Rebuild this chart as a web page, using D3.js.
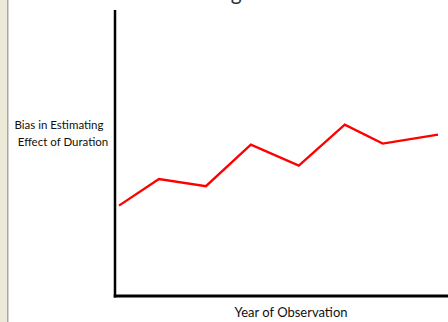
<!DOCTYPE html>
<html>
<head>
<meta charset="utf-8">
<script src="https://cdn.jsdelivr.net/npm/d3@7"></script>
<style>
html,body{margin:0;padding:0;background:#fff;overflow:hidden}
</style>
</head>
<body>
<script>
// Data (relative units)
const years = [1.2, 13.2, 27.3, 40.8, 55.2, 69.0, 80.4, 97.0];
const bias  = [31.6, 40.9, 38.4, 52.9, 45.6, 59.9, 53.3, 56.4];
const title = "Shifting Bias Over Time";
const yLabelLines = ["Bias in Estimating", "Effect of Duration"];
const xLabel = "Year of Observation";

const W = 448, H = 322;
const svg = d3.select("body").append("svg").attr("width", W).attr("height", H);

// left window strip
svg.append("rect").attr("x",0).attr("y",0).attr("width",7).attr("height",H).attr("fill","#ECE9D8");
svg.append("rect").attr("x",7).attr("y",0).attr("width",1.5).attr("height",H).attr("fill","#A8A8A0");

const x = d3.scaleLinear().domain([0,100]).range([115,448]);
const y = d3.scaleLinear().domain([0,100]).range([296,10]);

// title (mostly cropped at the top edge, as in the reference)
svg.append("text").attr("x",279).attr("y",0).attr("text-anchor","middle")
  .attr("font-family","Lato, 'Open Sans', sans-serif").attr("font-size",21)
  .attr("fill","#333").text(title);

// axes
svg.append("line").attr("x1",x(0)).attr("x2",x(0)).attr("y1",y(100)).attr("y2",y(0)+1.5)
  .attr("stroke","#000").attr("stroke-width",2.5);
svg.append("line").attr("x1",x(0)-1.25).attr("x2",W).attr("y1",y(0)).attr("y2",y(0))
  .attr("stroke","#000").attr("stroke-width",3);

// line
const pts = years.map((d,i)=>[d,bias[i]]);
svg.append("path").datum(pts)
  .attr("d", d3.line().x(d=>x(d[0])).y(d=>y(d[1])))
  .attr("fill","none").attr("stroke","#FF0000").attr("stroke-width",2.3)
  .attr("stroke-linejoin","miter");

// labels
const yl = svg.append("text").attr("font-family","Lato, 'Open Sans', sans-serif")
  .attr("font-size",11.5).attr("fill","#111").attr("text-anchor","middle");
yl.selectAll("tspan").data(yLabelLines).join("tspan")
  .attr("x",(d,i)=> i===0 ? 59 : 63).attr("y",(d,i)=>129+i*16.5).text(d=>d);

svg.append("text").attr("x",291).attr("y",317).attr("text-anchor","middle")
  .attr("font-family","Lato, 'Open Sans', sans-serif").attr("font-size",13)
  .attr("fill","#111").text(xLabel);
</script>
</body>
</html>
